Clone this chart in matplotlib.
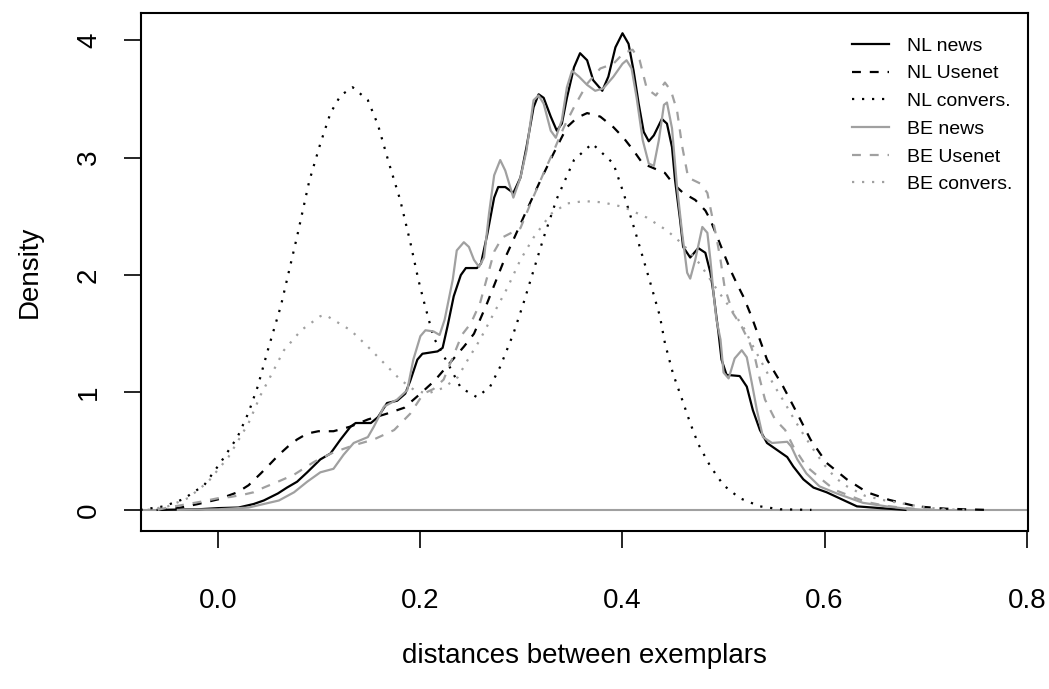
import matplotlib
matplotlib.use('Agg')
import matplotlib.pyplot as plt

plt.rcParams['font.family'] = ['Liberation Sans', 'DejaVu Sans']

# density curves (x = distance, y = density)
nl_news_x = [-0.06, -0.02, 0.0, 0.02, 0.035, 0.045, 0.059, 0.068, 0.078, 0.088, 0.101, 0.111, 0.121, 0.131,
             0.136, 0.151, 0.158, 0.167, 0.177, 0.185, 0.190, 0.197, 0.202, 0.217, 0.222, 0.227, 0.233, 0.240,
             0.245, 0.256, 0.260, 0.266, 0.273, 0.277, 0.284, 0.292, 0.299, 0.305, 0.312, 0.317, 0.322, 0.329,
             0.335, 0.340, 0.345, 0.352, 0.358, 0.365, 0.371, 0.380, 0.386, 0.393, 0.400, 0.406, 0.411, 0.416,
             0.421, 0.426, 0.431, 0.439, 0.444, 0.449, 0.452, 0.457, 0.460, 0.467, 0.475, 0.482, 0.487, 0.490,
             0.493, 0.495, 0.498, 0.503, 0.516, 0.523, 0.529, 0.536, 0.543, 0.553, 0.563, 0.569, 0.579, 0.589,
             0.602, 0.612, 0.632, 0.655, 0.68]
nl_news_y = [0.0, 0.005, 0.015, 0.02, 0.05, 0.08, 0.14, 0.19, 0.24, 0.32, 0.43, 0.48, 0.60, 0.71,
             0.74, 0.74, 0.79, 0.91, 0.93, 0.99, 1.10, 1.28, 1.33, 1.35, 1.38, 1.57, 1.82, 2.00,
             2.06, 2.06, 2.10, 2.34, 2.66, 2.75, 2.75, 2.70, 2.83, 3.09, 3.43, 3.54, 3.51, 3.35,
             3.23, 3.29, 3.51, 3.77, 3.89, 3.83, 3.66, 3.57, 3.69, 3.94, 4.06, 3.97, 3.74, 3.46,
             3.22, 3.14, 3.19, 3.33, 3.29, 3.09, 2.81, 2.47, 2.24, 2.15, 2.23, 2.19, 2.02, 1.85,
             1.64, 1.51, 1.28, 1.15, 1.14, 1.05, 0.85, 0.68, 0.57, 0.51, 0.45, 0.37, 0.26, 0.19,
             0.15, 0.11, 0.03, 0.015, 0.0]

nl_usenet_x = [-0.06, -0.04, -0.02, 0.0, 0.019, 0.030, 0.042, 0.050, 0.060, 0.069, 0.078, 0.088, 0.099,
               0.114, 0.131, 0.148, 0.167, 0.184, 0.200, 0.214, 0.223, 0.243, 0.253, 0.266, 0.277, 0.283,
               0.292, 0.304, 0.319, 0.332, 0.345, 0.355, 0.365, 0.378, 0.391, 0.401, 0.411, 0.420, 0.431,
               0.442, 0.450, 0.460, 0.472, 0.482, 0.487, 0.494, 0.500, 0.507, 0.513, 0.520, 0.528, 0.543,
               0.559, 0.573, 0.586, 0.602, 0.622, 0.642, 0.664, 0.691, 0.72, 0.76]
nl_usenet_y = [0.0, 0.015, 0.05, 0.09, 0.15, 0.21, 0.31, 0.38, 0.47, 0.54, 0.60, 0.65, 0.67,
               0.67, 0.71, 0.77, 0.82, 0.87, 0.99, 1.10, 1.19, 1.39, 1.50, 1.76, 2.00, 2.13,
               2.30, 2.53, 2.81, 3.04, 3.26, 3.34, 3.38, 3.35, 3.26, 3.17, 3.06, 2.95, 2.91,
               2.87, 2.78, 2.70, 2.64, 2.55, 2.47, 2.32, 2.19, 2.04, 1.93, 1.81, 1.64, 1.28,
               1.05, 0.82, 0.60, 0.40, 0.26, 0.15, 0.085, 0.03, 0.01, 0.0]

nl_convers_x = [-0.077, -0.054, -0.035, -0.014, 0.002, 0.019, 0.030, 0.039, 0.049, 0.062, 0.078, 0.090,
                0.101, 0.111, 0.121, 0.133, 0.148, 0.158, 0.169, 0.180, 0.190, 0.198, 0.203, 0.213, 0.227,
                0.240, 0.256, 0.269, 0.279, 0.292, 0.302, 0.312, 0.322, 0.335, 0.352, 0.370, 0.391, 0.401,
                0.414, 0.427, 0.437, 0.442, 0.450, 0.459, 0.467, 0.475, 0.487, 0.500, 0.516, 0.536, 0.556,
                0.587]
nl_convers_y = [0.0, 0.03, 0.09, 0.21, 0.40, 0.62, 0.83, 1.05, 1.36, 1.74, 2.33, 2.80,
                3.12, 3.38, 3.53, 3.60, 3.49, 3.28, 2.95, 2.64, 2.28, 1.96, 1.79, 1.47, 1.25,
                1.04, 0.96, 1.05, 1.22, 1.50, 1.76, 2.04, 2.32, 2.65, 2.98, 3.12, 2.95, 2.70,
                2.33, 1.95, 1.65, 1.42, 1.16, 0.94, 0.74, 0.56, 0.37, 0.21, 0.10, 0.03, 0.005,
                0.0]

be_news_x = [-0.04, 0.0, 0.03, 0.045, 0.06, 0.075, 0.088, 0.101, 0.114, 0.124, 0.134, 0.148, 0.154, 0.164,
             0.177, 0.187, 0.193, 0.200, 0.205, 0.213, 0.219, 0.224, 0.232, 0.236, 0.243, 0.248, 0.253,
             0.258, 0.263, 0.268, 0.273, 0.279, 0.284, 0.292, 0.299, 0.305, 0.312, 0.317, 0.322, 0.329,
             0.334, 0.340, 0.345, 0.350, 0.357, 0.365, 0.373, 0.381, 0.391, 0.400, 0.404, 0.409, 0.414,
             0.420, 0.426, 0.431, 0.436, 0.441, 0.444, 0.449, 0.454, 0.459, 0.464, 0.467, 0.472, 0.479,
             0.484, 0.487, 0.490, 0.493, 0.497, 0.500, 0.505, 0.511, 0.518, 0.523, 0.528, 0.533, 0.539,
             0.548, 0.563, 0.567, 0.573, 0.582, 0.595, 0.612, 0.638, 0.661, 0.681, 0.70]
be_news_y = [0.0, 0.005, 0.02, 0.05, 0.08, 0.15, 0.24, 0.32, 0.35, 0.47, 0.57, 0.62, 0.71, 0.88,
             0.94, 1.02, 1.28, 1.48, 1.53, 1.52, 1.49, 1.62, 1.96, 2.21, 2.28, 2.24, 2.13,
             2.07, 2.15, 2.53, 2.85, 2.98, 2.89, 2.66, 2.83, 3.06, 3.49, 3.53, 3.46, 3.23,
             3.17, 3.32, 3.60, 3.74, 3.69, 3.62, 3.57, 3.59, 3.69, 3.80, 3.83, 3.76, 3.51,
             3.15, 2.95, 2.93, 3.15, 3.45, 3.47, 3.25, 2.75, 2.36, 2.02, 1.97, 2.13, 2.41,
             2.36, 2.13, 1.85, 1.62, 1.45, 1.17, 1.12, 1.29, 1.36, 1.30, 1.08, 0.85, 0.62,
             0.57, 0.58, 0.54, 0.43, 0.31, 0.20, 0.14, 0.06, 0.03, 0.01, 0.0]

be_usenet_x = [-0.06, -0.05, -0.03, -0.017, 0.0, 0.012, 0.025, 0.035, 0.045, 0.059, 0.075, 0.095, 0.114,
               0.134, 0.154, 0.174, 0.190, 0.203, 0.213, 0.223, 0.233, 0.241, 0.250, 0.259, 0.266, 0.273,
               0.281, 0.290, 0.299, 0.309, 0.322, 0.332, 0.342, 0.352, 0.365, 0.378, 0.391, 0.401, 0.410,
               0.417, 0.424, 0.433, 0.442, 0.448, 0.454, 0.459, 0.465, 0.477, 0.484, 0.488, 0.493, 0.497,
               0.501, 0.509, 0.518, 0.526, 0.531, 0.536, 0.541, 0.551, 0.561, 0.569, 0.582, 0.597, 0.610,
               0.625, 0.64, 0.66, 0.68, 0.70, 0.72]
be_usenet_y = [0.0, 0.02, 0.05, 0.07, 0.10, 0.11, 0.13, 0.15, 0.19, 0.24, 0.30, 0.41, 0.49,
               0.55, 0.60, 0.68, 0.82, 0.99, 1.03, 1.11, 1.32, 1.49, 1.59, 1.76, 1.98, 2.20,
               2.32, 2.36, 2.40, 2.61, 2.87, 3.06, 3.26, 3.43, 3.63, 3.76, 3.80, 3.89, 3.92,
               3.83, 3.59, 3.53, 3.64, 3.57, 3.40, 3.10, 2.83, 2.78, 2.70, 2.53, 2.32, 2.13,
               1.90, 1.68, 1.56, 1.42, 1.30, 1.11, 0.94, 0.77, 0.68, 0.54, 0.37, 0.26, 0.17,
               0.12, 0.07, 0.035, 0.015, 0.005, 0.0]

be_convers_x = [-0.07, -0.05, -0.03, -0.01, 0.01, 0.03, 0.042, 0.050, 0.065, 0.082, 0.101, 0.106, 0.131,
                0.148, 0.164, 0.180, 0.194, 0.207, 0.223, 0.237, 0.247, 0.259, 0.273, 0.286, 0.299, 0.312,
                0.329, 0.345, 0.362, 0.380, 0.401, 0.424, 0.444, 0.460, 0.477, 0.494, 0.51, 0.52, 0.53,
                0.54, 0.55, 0.56, 0.57, 0.58, 0.59, 0.60, 0.61, 0.62, 0.64, 0.66, 0.68, 0.70, 0.72, 0.74]
be_convers_y = [0.0, 0.03, 0.10, 0.24, 0.45, 0.74, 0.98, 1.11, 1.36, 1.53, 1.65, 1.66, 1.53,
                1.39, 1.25, 1.11, 1.02, 0.99, 1.04, 1.13, 1.28, 1.45, 1.68, 1.89, 2.13, 2.32,
                2.52, 2.61, 2.63, 2.62, 2.58, 2.49, 2.38, 2.26, 2.09, 1.87, 1.68, 1.55, 1.38,
                1.22, 1.06, 0.92, 0.77, 0.63, 0.50, 0.38, 0.28, 0.21, 0.12, 0.08, 0.05, 0.02, 0.005, 0.0]

labels = ['NL news', 'NL Usenet', 'NL convers.', 'BE news', 'BE Usenet', 'BE convers.']
x_ticks = [0.0, 0.2, 0.4, 0.6, 0.8]
y_ticks = [0, 1, 2, 3, 4]

GRAY = '#a0a0a0'
DASH = (0, (4, 4))
DOT = (0, (1, 3.5))

fig = plt.figure(figsize=(10.49, 6.89), dpi=100)
ax = fig.add_axes([0.1344, 0.2293, 0.8453, 0.7514])

# horizontal zero line (R plot.density style)
ax.axhline(0, color=GRAY, lw=1.5, zorder=1)

series = [
    (nl_news_x, nl_news_y, 'black', '-'),
    (nl_usenet_x, nl_usenet_y, 'black', DASH),
    (nl_convers_x, nl_convers_y, 'black', DOT),
    (be_news_x, be_news_y, GRAY, '-'),
    (be_usenet_x, be_usenet_y, GRAY, DASH),
    (be_convers_x, be_convers_y, GRAY, DOT),
]
for (xs, ys, col, ls), lab in zip(series, labels):
    ax.plot(xs, ys, color=col, linestyle=ls, lw=1.6, label=lab)

ax.set_xlim(-0.0765, 0.801)
ax.set_ylim(-0.18, 4.23)
ax.set_xticks(x_ticks)
ax.set_xticklabels(['%.1f' % v for v in x_ticks])
ax.set_yticks(y_ticks)
ax.set_yticklabels([str(v) for v in y_ticks], rotation=90, va='center')
ax.tick_params(axis='both', direction='out', length=12, width=1.2, labelsize=20, color='black')
ax.tick_params(axis='x', pad=29)
ax.tick_params(axis='y', pad=16)
for sp in ax.spines.values():
    sp.set_linewidth(1.5)

ax.set_xlabel('distances between exemplars', fontsize=20, labelpad=21)
ax.set_ylabel('Density', fontsize=20, labelpad=24)

leg = ax.legend(loc='upper right', bbox_to_anchor=(1.002, 0.988), frameon=False, fontsize=14,
                handlelength=1.9, handletextpad=0.9, labelspacing=0.52)

fig.savefig('out.png', dpi=100)
